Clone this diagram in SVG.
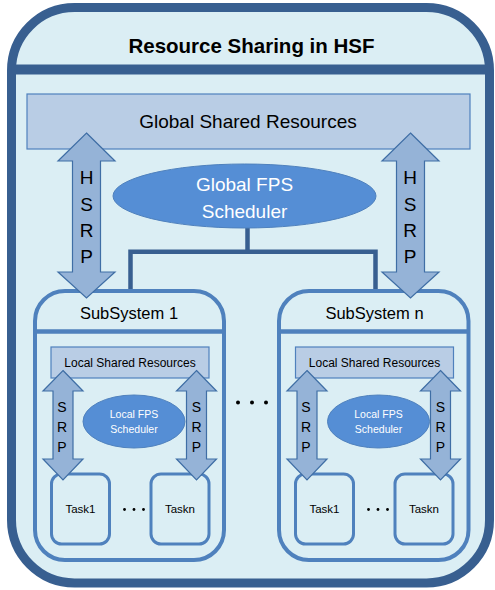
<svg xmlns="http://www.w3.org/2000/svg" width="495" height="590" viewBox="0 0 495 590">
<defs>
<style>
text{font-family:"Liberation Sans",Arial,sans-serif;text-anchor:middle;fill:#000}
.frame{fill:#dbeef4;stroke:#385f90;stroke-width:9}
.sep{stroke:#385f90;stroke-width:10}
.res{fill:#b9cde5;stroke:#4f81bd;stroke-width:1.2}
.arr{fill:#95b3d7;stroke:#3f6ea5;stroke-width:1.2;stroke-linejoin:miter}
.ell{fill:#558ed5;stroke:#4f81bd;stroke-width:1}
.sub{fill:#dbeef4;stroke:#4f81bd;stroke-width:4}
.task{fill:#dbeef4;stroke:#4f81bd;stroke-width:3}
.gconn{fill:none;stroke:#385f90;stroke-width:4.5}
.lconn{fill:none;stroke:#4f81bd;stroke-width:3}
.wt{fill:#fff}
</style>
</defs>

<g id="frame">
<path class="frame" d="M74.5,7.5 H426.5 A63,63 0 0 1 489.5,70.5 V520 A63,63 0 0 1 426.5,583 H74.5 A63,63 0 0 1 11.5,520 V70.5 A63,63 0 0 1 74.5,7.5 Z"/>
<line class="sep" x1="11.5" y1="69.5" x2="489.5" y2="69.5"/>
<text x="251.5" y="53" font-size="20.5" font-weight="bold">Resource Sharing in HSF</text>
</g>

<g id="global-shared-resources">
<rect class="res" x="27" y="94" width="443" height="55"/>
<text x="248" y="128" font-size="19">Global Shared Resources</text>
</g>

<g id="connectors">
<path class="gconn" d="M247.5,228 V251.7 M130.5,289 V251.7 H375.5 V289"/>
<path class="lconn" d="M134.3,448 V465.3 M90.7,473 V465.3 H174 V473"/>
<path class="lconn" d="M378.3,448 V465.3 M334.7,473 V465.3 H418 V473"/>
</g>

<g id="global-fps-scheduler">
<ellipse class="ell" cx="244.5" cy="196" rx="131.5" ry="32"/>
<text class="wt" x="244.5" y="191" font-size="19">Global FPS</text>
<text class="wt" x="244.5" y="218" font-size="19">Scheduler</text>
</g>

<g id="subsystem-1">
<path class="sub" d="M65,291 H194 A30,30 0 0 1 224,321 V530 A30,30 0 0 1 194,560 H65 A30,30 0 0 1 35,530 V321 A30,30 0 0 1 65,291 Z"/>
<line x1="35" y1="331.5" x2="224" y2="331.5" stroke="#4f81bd" stroke-width="4.5"/>
<text x="129" y="319" font-size="16.5">SubSystem 1</text>
<g id="local-shared-resources-1">
<rect class="res" x="51" y="347" width="158" height="31"/>
<text x="130" y="367" font-size="12">Local Shared Resources</text>
</g>
<g id="local-fps-scheduler-1">
<ellipse class="ell" cx="134" cy="421.5" rx="51" ry="26.5"/>
<text class="wt" x="134" y="418" font-size="10.5">Local FPS</text>
<text class="wt" x="134" y="433" font-size="10.5">Scheduler</text>
</g>
<g id="task1-1">
<rect class="task" x="51.5" y="474" width="58" height="70" rx="10"/>
<text x="80.5" y="512.5" font-size="11.5">Task1</text>
</g>
<g id="taskn-1">
<rect class="task" x="151" y="474" width="58" height="70" rx="10"/>
<text x="180" y="512.5" font-size="11.5">Taskn</text>
</g>
<g id="dots-1" fill="#000">
<circle cx="124.5" cy="509.5" r="1.4"/><circle cx="134" cy="509.5" r="1.4"/><circle cx="143.5" cy="509.5" r="1.4"/>
</g>
<g id="srp-left-1">
<path class="arr" d="M63,370.5 L83,391 L73,391 L73,459 L83,459 L63,480 L43,459 L53,459 L53,391 L43,391 Z"/>
<text x="62" y="412" font-size="14">S</text>
<text x="62" y="432" font-size="14">R</text>
<text x="62" y="452" font-size="14">P</text>
</g>
<g id="srp-right-1">
<path class="arr" d="M196.5,370.5 L216.5,391 L206.5,391 L206.5,459 L216.5,459 L196.5,480 L176.5,459 L186.5,459 L186.5,391 L176.5,391 Z"/>
<text x="196.5" y="412" font-size="14">S</text>
<text x="196.5" y="432" font-size="14">R</text>
<text x="196.5" y="452" font-size="14">P</text>
</g>
</g>

<g id="subsystem-n">
<path class="sub" d="M309,291 H438.5 A30,30 0 0 1 468.5,321 V530 A30,30 0 0 1 438.5,560 H309 A30,30 0 0 1 279,530 V321 A30,30 0 0 1 309,291 Z"/>
<line x1="279" y1="331.5" x2="468.5" y2="331.5" stroke="#4f81bd" stroke-width="4.5"/>
<text x="374.5" y="319" font-size="16.5">SubSystem n</text>
<g id="local-shared-resources-n">
<rect class="res" x="295.5" y="347" width="158" height="31"/>
<text x="374.5" y="367" font-size="12">Local Shared Resources</text>
</g>
<g id="local-fps-scheduler-n">
<ellipse class="ell" cx="378.5" cy="421.5" rx="51" ry="26.5"/>
<text class="wt" x="378.5" y="418" font-size="10.5">Local FPS</text>
<text class="wt" x="378.5" y="433" font-size="10.5">Scheduler</text>
</g>
<g id="task1-n">
<rect class="task" x="295.5" y="474" width="58" height="70" rx="10"/>
<text x="324.5" y="512.5" font-size="11.5">Task1</text>
</g>
<g id="taskn-n">
<rect class="task" x="395" y="474" width="58" height="70" rx="10"/>
<text x="424" y="512.5" font-size="11.5">Taskn</text>
</g>
<g id="dots-n" fill="#000">
<circle cx="368.5" cy="509.5" r="1.4"/><circle cx="378" cy="509.5" r="1.4"/><circle cx="387.5" cy="509.5" r="1.4"/>
</g>
<g id="srp-left-n">
<path class="arr" d="M307,370.5 L327,391 L317,391 L317,459 L327,459 L307,480 L287,459 L297,459 L297,391 L287,391 Z"/>
<text x="306" y="412" font-size="14">S</text>
<text x="306" y="432" font-size="14">R</text>
<text x="306" y="452" font-size="14">P</text>
</g>
<g id="srp-right-n">
<path class="arr" d="M440.5,370.5 L460.5,391 L450.5,391 L450.5,459 L460.5,459 L440.5,480 L420.5,459 L430.5,459 L430.5,391 L420.5,391 Z"/>
<text x="440.5" y="412" font-size="14">S</text>
<text x="440.5" y="432" font-size="14">R</text>
<text x="440.5" y="452" font-size="14">P</text>
</g>
</g>

<g id="dots-between" fill="#000">
<circle cx="238" cy="402.5" r="2"/><circle cx="252" cy="402.5" r="2"/><circle cx="266" cy="402.5" r="2"/>
</g>

<g id="hsrp-left">
<path class="arr" d="M86.5,133 L115,161 L100.5,161 L100.5,272 L115,272 L86.5,298 L58,272 L72.5,272 L72.5,161 L58,161 Z"/>
<text x="86.5" y="184" font-size="19">H</text>
<text x="86.5" y="210.5" font-size="19">S</text>
<text x="86.5" y="237" font-size="19">R</text>
<text x="86.5" y="263" font-size="19">P</text>
</g>
<g id="hsrp-right">
<path class="arr" d="M410.5,133 L439,161 L424.5,161 L424.5,272 L439,272 L410.5,298 L382,272 L396.5,272 L396.5,161 L382,161 Z"/>
<text x="410" y="184" font-size="19">H</text>
<text x="410" y="210.5" font-size="19">S</text>
<text x="410" y="237" font-size="19">R</text>
<text x="410" y="263" font-size="19">P</text>
</g>
</svg>
